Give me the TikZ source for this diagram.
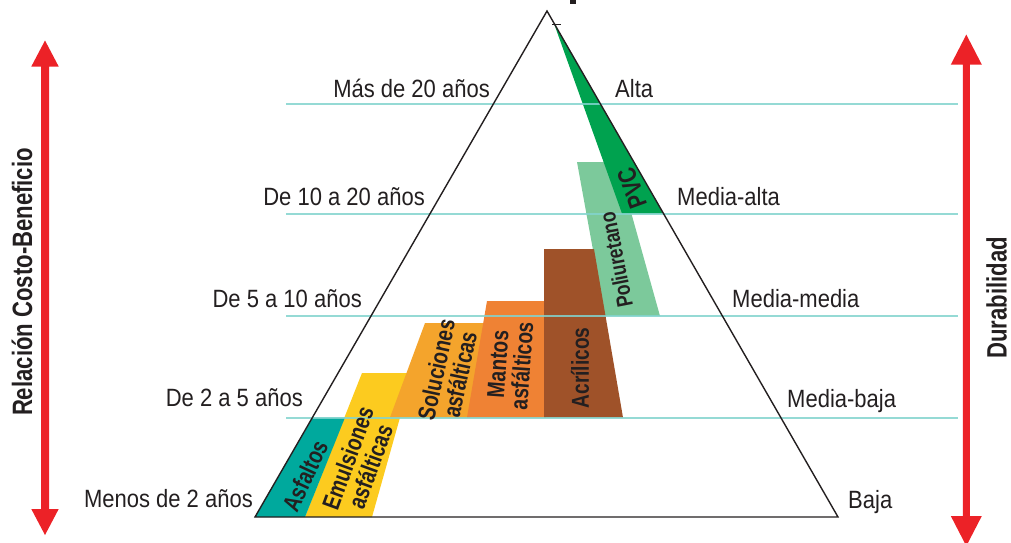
\documentclass[tikz,border=0pt]{standalone}
\usepackage{fontspec}
\setmainfont{Liberation Sans}
\newfontfamily\cfont{Liberation Sans}[FakeStretch=0.88]
\newfontfamily\cbfont{Liberation Sans}[FakeStretch=0.79]
\newfontfamily\ibfont{Liberation Sans}[FakeStretch=0.78]
\definecolor{txt}{RGB}{35,31,32}
\definecolor{arrred}{RGB}{236,34,39}
\definecolor{hl}{RGB}{130,212,206}
\definecolor{cteal}{RGB}{0,169,157}
\definecolor{cyellow}{RGB}{252,203,31}
\definecolor{csol}{RGB}{244,164,44}
\definecolor{cmant}{RGB}{239,130,52}
\definecolor{cacr}{RGB}{159,82,41}
\definecolor{cpoli}{RGB}{124,201,155}
\definecolor{cpvc}{RGB}{0,162,79}
\tikzset{
  lbl/.style={font=\cfont\fontsize{25}{28}\selectfont, text=txt, inner sep=0pt},
  vlbl/.style={font=\cbfont\bfseries\fontsize{28}{30}\selectfont, text=txt, inner sep=0pt, rotate=90},
  inlbl/.style={font=\ibfont\bfseries\fontsize{24.5}{24}\selectfont, text=txt, inner sep=0pt, align=center},
  hline/.style={draw=hl, line width=2pt, opacity=0.85},
  tri/.style={draw=txt, line width=1.4pt, line join=miter},
}
\begin{document}
\begin{tikzpicture}[x=1pt,y=-1pt]
\useasboundingbox (0,0) rectangle (1011,542);
% triangle corners
\coordinate (apex) at (547,11);
\coordinate (bl) at (255,517);
\coordinate (br) at (838,517);
% bands
\fill[cyellow] (362,373) -- (413,373) -- (400,417.5) -- (372,517) -- (305,517) -- cycle;
\fill[cteal] (bl) -- (313,417.5) -- (345,417.5) -- (305,517) -- cycle;
\fill[csol] (425,323) -- (490,323) -- (470,417.5) -- (390,417.5) -- cycle;
\fill[cmant] (487,301) -- (546,301) -- (546,417.5) -- (467,417.5) -- cycle;
\fill[cpoli] (577,162) -- (617,162) -- (660,316) -- (605,316) -- cycle;
\fill[cacr] (544,249) -- (594,249) -- (623,417.5) -- (544,417.5) -- cycle;
\fill[cpvc] (554,23.5) -- (663,213.5) -- (622,213.5) -- cycle;
% level lines
\coordinate (h1a) at (286,104); \coordinate (h1b) at (958,104);
\coordinate (h2a) at (286,214); \coordinate (h2b) at (958,214);
\coordinate (h3a) at (286,316); \coordinate (h3b) at (958,316);
\coordinate (h4a) at (286,418); \coordinate (h4b) at (958,418);
\draw[hline] (h1a) -- (h1b);
\draw[hline] (h2a) -- (h2b);
\draw[hline] (h3a) -- (h3b);
\draw[hline] (h4a) -- (h4b);
% triangle
\draw[tri] (apex) -- (br) -- (bl) -- cycle;
% small marks near the apex
\draw[txt, line width=1.2pt] (552,24.5) -- (561,24.5);
\fill[txt] (570,0) rectangle (576,4);
% arrows
\fill[arrred] (45,40.5) -- (58.7,66.5) -- (49,66.5) -- (49,509) -- (58.7,509) -- (45,535) -- (31.3,509) -- (41,509) -- (41,66.5) -- (31.3,66.5) -- cycle;
\fill[arrred] (966.3,34.6) -- (981.8,64.6) -- (969.8,64.6) -- (969.8,516) -- (981.8,516) -- (966.3,546) -- (950.8,516) -- (962.8,516) -- (962.8,64.6) -- (950.8,64.6) -- cycle;
% axis labels
\node[vlbl] (rcb) at (22,282) {Relación Costo-Beneficio};
\node[vlbl] (dur) at (996.5,298) {Durabilidad};
% left labels
\node[lbl, anchor=base east] (l1) at (490,97) {Más de 20 años};
\node[lbl, anchor=base east] (l2) at (425,205) {De 10 a 20 años};
\node[lbl, anchor=base east] (l3) at (362,307) {De 5 a 10 años};
\node[lbl, anchor=base east] (l4) at (303,406) {De 2 a 5 años};
\node[lbl, anchor=base east] (l5) at (253,507) {Menos de 2 años};
% right labels
\node[lbl, anchor=base west] (r1) at (615,97) {Alta};
\node[lbl, anchor=base west] (r2) at (677,205) {Media-alta};
\node[lbl, anchor=base west] (r3) at (732,307) {Media-media};
\node[lbl, anchor=base west] (r4) at (787,407) {Media-baja};
\node[lbl, anchor=base west] (r5) at (848,508) {Baja};
% band labels
\node[inlbl, rotate=65] (t1) at (305,476) {Asfaltos};
\node[inlbl, rotate=70] (t2) at (359,462) {Emulsiones\\asfálticas};
\node[inlbl, rotate=78] (t3) at (448,372) {Soluciones\\asfálticas};
\node[inlbl, rotate=86] (t4) at (510,365) {Mantos\\asfálticos};
\node[inlbl, rotate=90] (t5) at (580,368) {Acrílicos};
\node[inlbl, rotate=101, scale=0.92] (t6) at (616,260) {Poliuretano};
\node[inlbl, rotate=110, scale=1.05] (t7) at (632,188) {PVC};
\end{tikzpicture}
\end{document}
